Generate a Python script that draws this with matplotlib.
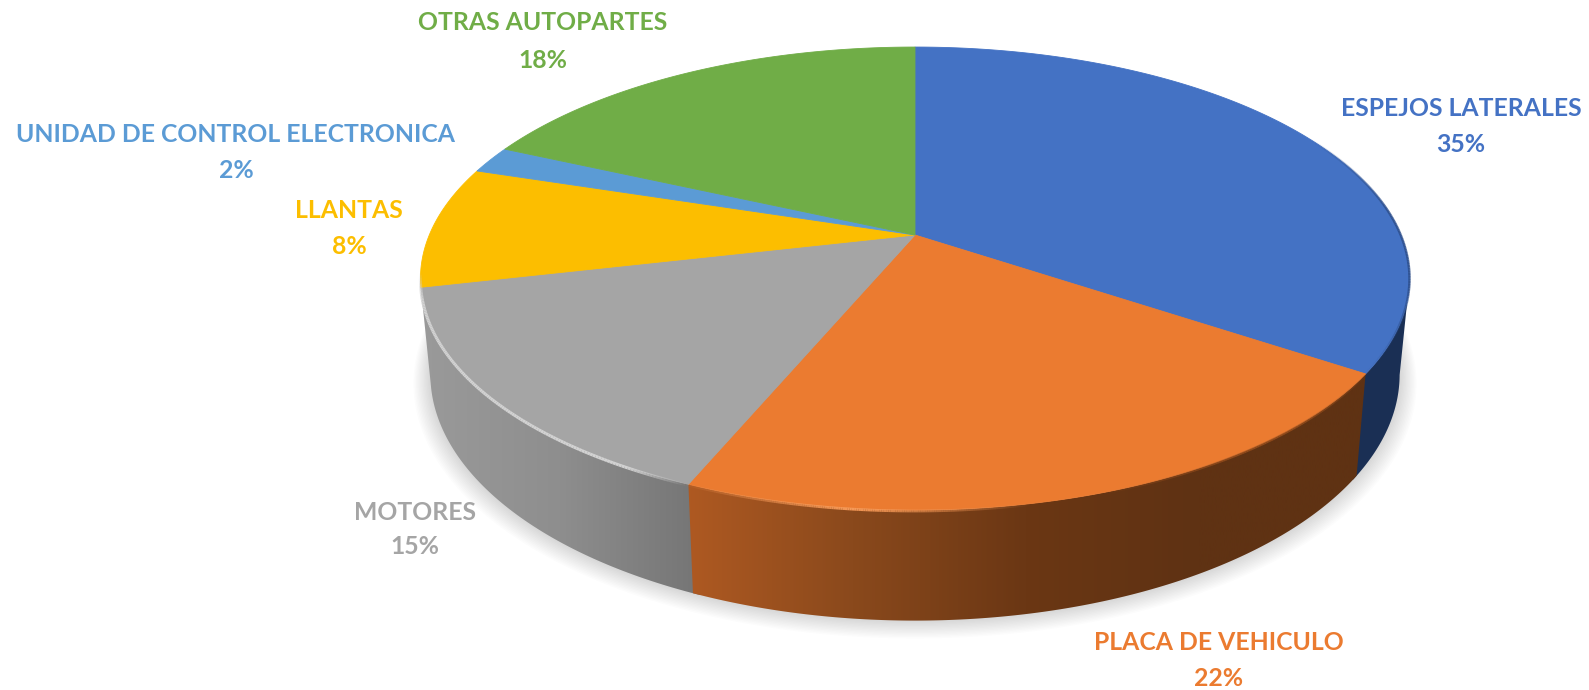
"""3D-look pie chart of counterfeit auto parts shares, drawn in pixel coordinates."""
import numpy as np
import matplotlib
matplotlib.use("Agg")
import matplotlib.pyplot as plt
from matplotlib.collections import LineCollection
from matplotlib.colors import LinearSegmentedColormap, to_rgb
from matplotlib.patches import Polygon

categories = ["ESPEJOS LATERALES", "PLACA DE VEHICULO", "MOTORES", "LLANTAS",
              "UNIDAD DE CONTROL ELECTRONICA", "OTRAS AUTOPARTES"]
# what the labels print
percent_labels = [35, 22, 15, 8, 2, 18]
slice_shares = [34.4, 21.9, 15.1, 8.5, 1.9, 18.2]

COLORS = ["#4472C4", "#EB7B30", "#A5A5A5", "#FCBE00", "#5B9BD5", "#70AD47"]

# label centre x, name y, percent y
LABEL_POS = [(1461, 109, 145), (1219, 643, 679), (415, 513, 547),
             (349, 211, 246), (236, 135, 170), (543, 23, 60)]

# perspective of the pie top
CX, CY = 915, 235
K = 0.188
A = 223.3
B = 485.7


def top_xy(t):
    """t in degrees, clockwise from 12 o'clock -> pixel position on top face."""
    r = np.radians(t)
    x, y = np.sin(r), np.cos(r)
    den = 1 + K * y
    return B * x / den, A * y / den


def rim(t):
    dx, dy = top_xy(t)
    return CX + dx, CY - dy


def base(t):
    dx, dy = top_xy(t)
    return CX + 0.98 * dx, CY - (1.064 * dy - 93)


def wall(t0, t1):
    ts = np.linspace(t0, t1, 200)
    tx, ty = rim(ts)
    bx, by = base(ts)
    return np.column_stack([np.r_[tx, bx[::-1]], np.r_[ty, by[::-1]]])


def gradient_fill(ax, verts, stops, x0, x1, z):
    """Horizontal gradient clipped to a polygon."""
    cmap = LinearSegmentedColormap.from_list("wall", stops)
    im = ax.imshow(np.linspace(0, 1, 256).reshape(1, -1), cmap=cmap, aspect="auto",
                   extent=(x0, x1, 690, 0), zorder=z, interpolation="bilinear")
    clip = Polygon(verts, closed=True, transform=ax.transData, fc="none", ec="none")
    ax.add_patch(clip)
    im.set_clip_path(clip)


def rim_line(ax, t0, t1, color, lw, dy=1.0, alpha=1.0, fade=0.4):
    """Line on the rim; fades out towards t0 and t1 over `fade` of its length."""
    ts = np.linspace(t0, t1, 160)
    px, py = rim(ts)
    pts = np.column_stack([px, py + dy])
    segs = np.stack([pts[:-1], pts[1:]], axis=1)
    u = np.linspace(0, 1, len(segs))
    a = alpha * np.clip(np.minimum(u, 1 - u) / fade, 0, 1)
    rgba = np.column_stack([np.tile(to_rgb(color), (len(segs), 1)), a])
    ax.add_collection(LineCollection(segs, colors=rgba, linewidths=lw, zorder=6))


fig = plt.figure(figsize=(15.89, 6.9), dpi=100)
ax = fig.add_axes([0, 0, 1, 1])

edges = np.concatenate([[0], np.cumsum(slice_shares)]) / sum(slice_shares) * 360

# soft shadow under the base
ts = np.linspace(75, 285, 300)
bx, by = base(ts)
bcx, bcy = CX, CY + 130
for s in np.linspace(1.035, 1.0, 14):
    off = (s - 1) / 0.035 * 9
    ax.fill(bcx + (bx - bcx) * s, bcy + (by - bcy) * s + off, color="black",
            alpha=0.013, lw=0, zorder=1)

# side walls of the three front slices
ax.fill(*wall(101, edges[1] + 1).T, color="#1A2F54", lw=0, zorder=2)
gradient_fill(ax, wall(edges[1], edges[2]),
              ["#B05A22", "#8A491C", "#6B3714", "#5F3213", "#5F3213"], 680, 1370, 3)
gradient_fill(ax, wall(edges[2] - 1, edges[3]),
              ["#9A9A9A", "#8E8E8E", "#757575"], 420, 700, 2.5)

# top faces
for i, c in enumerate(COLORS):
    ts = np.linspace(edges[i], edges[i + 1], 200)
    px, py = rim(ts)
    ax.fill(np.r_[CX, px], np.r_[CY, py], color=c, lw=0.6, ec=c, zorder=5)

# bevel highlight on the front-left rim, dark soft edge on the right
rim_line(ax, edges[2], edges[3] + 4, "#D2D2D2", 2.2, fade=0.12)
rim_line(ax, edges[2] - 34, edges[2] + 1, "#F79A58", 2.0, fade=0.5)
rim_line(ax, edges[1] - 2, edges[1] + 38, "#A8561F", 1.6, alpha=0.7, fade=0.4)
rim_line(ax, 62, edges[1], "#2A4A85", 1.8, dy=0, alpha=0.8, fade=0.35)

# labels
for name, pct, c, (lx, ny, py) in zip(categories, percent_labels, COLORS, LABEL_POS):
    ax.text(lx, ny, name, color=c, fontsize=17.8, fontweight="bold", family="Lato",
            ha="center", va="center", zorder=8)
    ax.text(lx, py, f"{pct}%", color=c, fontsize=17.8, fontweight="bold", family="Lato",
            ha="center", va="center", zorder=8)

ax.set_xlim(0, 1589)
ax.set_ylim(690, 0)
ax.axis("off")
fig.savefig("out.png", dpi=100, facecolor="white")
